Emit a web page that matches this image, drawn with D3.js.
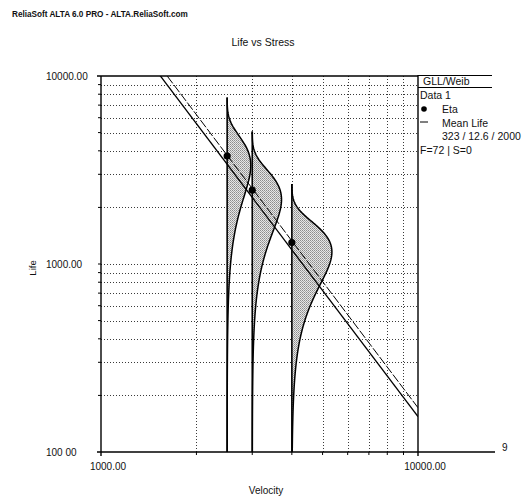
<!DOCTYPE html>
<html>
<head>
<meta charset="utf-8">
<script src="https://cdn.jsdelivr.net/npm/d3@7"></script>
<style>
  html, body { margin: 0; padding: 0; background: #fff; }
  svg { display: block; }
  text { font-family: "Liberation Sans", Arial, Helvetica, sans-serif; fill: #111; }
</style>
</head>
<body>
<svg id="chart" width="524" height="500"></svg>
<script>
// ---- data ----
const velocityTicks = [1000, 10000];
const velocityTickLabels = ["1000.00", "10000.00"];
const lifeTicks = [100, 1000, 10000];
const lifeTickLabels = ["100 00", "1000.00", "10000.00"];

// test stress levels and the eta estimated at each one
const stressLevels = [2500, 3000, 4000];
const etaAtStress = [3750, 2470, 1300];

// life-stress model: eta(V) = etaRef * (V / vRef)^(-n), Weibull shape beta
const weibullBeta = 3.23;
const powerN = 2.23;
const vRef = 10000;
const etaRef = 172;

// horizontal scale applied to each pdf (velocity units per unit density)
const pdfScale = 1.4e6;

const legendLines = ["GLL/Weib", "Data 1", "Eta", "Mean Life", "323 / 12.6 / 2000", "F=72 | S=0"];

// ---- layout ----
const svg = d3.select("#chart");
const plot = { left: 101, right: 418, top: 76, bottom: 452 };

const x = d3.scaleLog().domain([1000, 10000]).range([plot.left, plot.right]);
const y = d3.scaleLog().domain([100, 10000]).range([plot.bottom, plot.top]);

// Lanczos approximation of the gamma function
function gamma(z) {
  const g = 7;
  const c = [0.99999999999980993, 676.5203681218851, -1259.1392167224028,
    771.32342877765313, -176.61503916999185, 12.507343278686905,
    -0.13857109526572012, 9.9843695780195716e-6, 1.5056327351493116e-7];
  if (z < 0.5) return Math.PI / (Math.sin(Math.PI * z) * gamma(1 - z));
  z -= 1;
  let a = c[0];
  const t = z + g + 0.5;
  for (let i = 1; i < g + 2; i++) a += c[i] / (z + i);
  return Math.sqrt(2 * Math.PI) * Math.pow(t, z + 0.5) * Math.exp(-t) * a;
}
const meanFactor = gamma(1 + 1 / weibullBeta);
const etaModel = v => etaRef * Math.pow(v / vRef, -powerN);
const weibullPdf = (t, eta) =>
  (weibullBeta / eta) * Math.pow(t / eta, weibullBeta - 1) * Math.exp(-Math.pow(t / eta, weibullBeta));

// ---- defs: clip + halftone fill ----
const defs = svg.append("defs");
defs.append("clipPath").attr("id", "plotClip")
  .append("rect")
  .attr("x", plot.left).attr("y", plot.top)
  .attr("width", plot.right - plot.left).attr("height", plot.bottom - plot.top);
const pat = defs.append("pattern").attr("id", "halftone")
  .attr("patternUnits", "userSpaceOnUse").attr("width", 2).attr("height", 2);
pat.append("rect").attr("width", 2).attr("height", 2).attr("fill", "#e6e6e6");
pat.append("rect").attr("width", 1).attr("height", 1).attr("fill", "#8c8c8c");
pat.append("rect").attr("x", 1).attr("y", 1).attr("width", 1).attr("height", 1).attr("fill", "#a6a6a6");

// ---- header and titles ----
svg.append("text").attr("x", 12).attr("y", 17)
  .attr("font-size", 8.2).attr("font-weight", "bold")
  .text("ReliaSoft ALTA 6.0 PRO - ALTA.ReliaSoft.com");
svg.append("text").attr("x", 263).attr("y", 46).attr("text-anchor", "middle")
  .attr("font-size", 10.5).text("Life vs Stress");
svg.append("text").attr("x", 266).attr("y", 494).attr("text-anchor", "middle")
  .attr("font-size", 10).text("Velocity");
svg.append("text").attr("transform", "translate(36,268) rotate(-90)")
  .attr("text-anchor", "middle").attr("font-size", 9.5).text("Life");

// ---- grid ----
const minorV = d3.range(2000, 10000, 1000);
const minorL = d3.range(200, 1000, 100).concat(d3.range(1000, 10000, 1000));
const grid = svg.append("g").attr("stroke", "#3a3a3a").attr("stroke-width", 1)
  .attr("stroke-dasharray", "1,2").attr("fill", "none");
grid.selectAll("line.v").data(minorV).join("line").attr("class", "v")
  .attr("x1", d => Math.round(x(d)) + 0.5).attr("x2", d => Math.round(x(d)) + 0.5)
  .attr("y1", plot.top).attr("y2", plot.bottom);
grid.selectAll("line.h").data(minorL).join("line").attr("class", "h")
  .attr("x1", plot.left).attr("x2", plot.right)
  .attr("y1", d => Math.round(y(d)) + 0.5).attr("y2", d => Math.round(y(d)) + 0.5);

// ---- axes ----
const axes = svg.append("g").attr("stroke", "#000").attr("fill", "none");
axes.append("line").attr("x1", plot.left).attr("x2", plot.left)
  .attr("y1", plot.top).attr("y2", plot.bottom + 4).attr("stroke-width", 1.4);
axes.append("line").attr("x1", plot.left - 4).attr("x2", 495)
  .attr("y1", plot.bottom).attr("y2", plot.bottom).attr("stroke-width", 1.3);
axes.append("line").attr("x1", plot.left - 4).attr("x2", plot.right)
  .attr("y1", plot.top).attr("y2", plot.top).attr("stroke-width", 1.3);
axes.append("line").attr("x1", plot.right).attr("x2", plot.right)
  .attr("y1", plot.top - 1).attr("y2", plot.bottom + 4).attr("stroke-width", 1.4);
// minor tick marks
axes.selectAll("line.tx").data(minorV).join("line").attr("class", "tx")
  .attr("x1", d => x(d)).attr("x2", d => x(d))
  .attr("y1", plot.bottom).attr("y2", plot.bottom + 3).attr("stroke-width", 1);
axes.selectAll("line.ty").data(minorL).join("line").attr("class", "ty")
  .attr("x1", plot.left - 3).attr("x2", plot.left)
  .attr("y1", d => y(d)).attr("y2", d => y(d)).attr("stroke-width", 1);

svg.selectAll("text.xl").data(velocityTicks).join("text").attr("class", "xl")
  .attr("x", d => x(d) + 7).attr("y", 470).attr("text-anchor", "middle")
  .attr("font-size", 10).text((d, i) => velocityTickLabels[i]);
svg.selectAll("text.yl").data(lifeTicks).join("text").attr("class", "yl")
  .attr("x", 46).attr("y", d => y(d) + 3.5)
  .attr("font-size", 10).text((d, i) => lifeTickLabels[i]);
svg.append("text").attr("x", 502).attr("y", 451).attr("font-size", 10).text("9");

// ---- plot contents ----
const body = svg.append("g").attr("clip-path", "url(#plotClip)");

// pdf of life at each stress level, drawn sideways from the stress position
stressLevels.forEach((v, i) => {
  const eta = etaAtStress[i];
  const tTop = 2.05 * eta;
  const ts = d3.range(0, 241).map(k => 100 * Math.pow(tTop / 100, k / 240));
  const pts = ts.map(t => [x(v + pdfScale * weibullPdf(t, eta)), y(t)]);
  const area = [[x(v), y(100)], ...pts, [x(v), y(tTop)]];
  body.append("path")
    .attr("d", d3.line()(area) + "Z")
    .attr("fill", "url(#halftone)").attr("stroke", "none");
  body.append("path")
    .attr("d", d3.line()(pts))
    .attr("fill", "none").attr("stroke", "#000").attr("stroke-width", 1.5);
  body.append("line")
    .attr("x1", x(v)).attr("x2", x(v)).attr("y1", y(100)).attr("y2", y(tTop))
    .attr("stroke", "#000").attr("stroke-width", 1.6);
});

// eta and mean-life lines from the model
const vSpan = [1000, 10000];
const lineGen = d3.line().x(d => x(d[0])).y(d => y(d[1]));
body.append("path")
  .attr("d", lineGen(vSpan.map(v => [v, etaModel(v)])))
  .attr("fill", "none").attr("stroke", "#000").attr("stroke-width", 1)
  .attr("stroke-dasharray", "9,2");
body.append("path")
  .attr("d", lineGen(vSpan.map(v => [v, etaModel(v) * meanFactor])))
  .attr("fill", "none").attr("stroke", "#000").attr("stroke-width", 1.3);

// eta points
body.selectAll("circle.eta").data(stressLevels).join("circle").attr("class", "eta")
  .attr("cx", d => x(d)).attr("cy", (d, i) => y(etaAtStress[i]))
  .attr("r", 3.6).attr("fill", "#000");

// ---- legend ----
const lg = svg.append("g");
lg.append("line").attr("x1", plot.right).attr("x2", 492).attr("y1", 75.5).attr("y2", 75.5)
  .attr("stroke", "#000").attr("stroke-width", 1.2);
lg.append("line").attr("x1", plot.right).attr("x2", 492).attr("y1", 87.5).attr("y2", 87.5)
  .attr("stroke", "#000").attr("stroke-width", 1);
lg.append("text").attr("x", 423).attr("y", 85).attr("font-size", 10.5).text(legendLines[0]);
lg.append("text").attr("x", 420).attr("y", 99).attr("font-size", 10.5).text(legendLines[1]);
lg.append("circle").attr("cx", 424).attr("cy", 109).attr("r", 2.8).attr("fill", "#000");
lg.append("text").attr("x", 442).attr("y", 113).attr("font-size", 10.5).text(legendLines[2]);
lg.append("line").attr("x1", 420).attr("x2", 428).attr("y1", 122).attr("y2", 122)
  .attr("stroke", "#000").attr("stroke-width", 1);
lg.append("text").attr("x", 442).attr("y", 126.5).attr("font-size", 10.5).text(legendLines[3]);
lg.append("text").attr("x", 442).attr("y", 140).attr("font-size", 10.5).text(legendLines[4]);
lg.append("text").attr("x", 420).attr("y", 154).attr("font-size", 10.5).text(legendLines[5]);
</script>
</body>
</html>
